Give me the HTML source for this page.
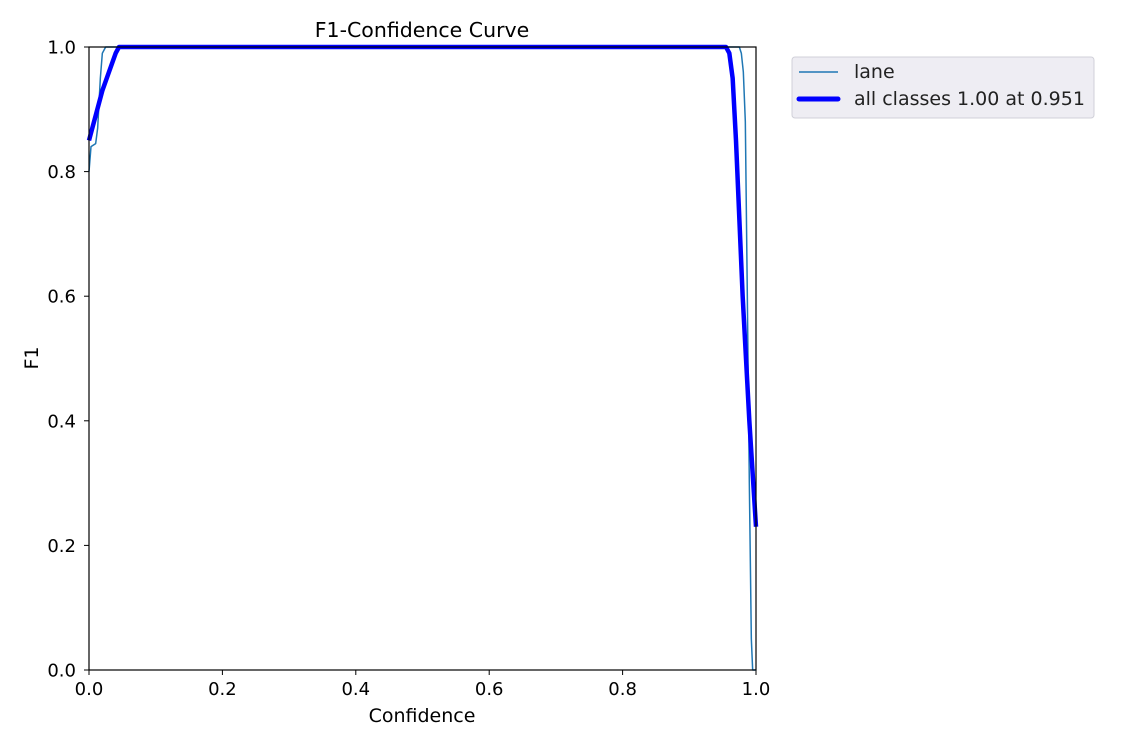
<!DOCTYPE html>
<html><head><meta charset="utf-8">
<style>
html,body{margin:0;padding:0;background:#fff;}
svg{display:block;font-family:"DejaVu Sans","Liberation Sans",sans-serif;}
</style></head>
<body>
<svg id="chart" width="1121" height="746" viewBox="0 0 1121 746">
  <text x="422" y="37" font-size="20.5" text-anchor="middle" fill="#000">F1-Confidence Curve</text>
  <g id="ticks"></g>
  <g id="plot"></g>
  <rect x="89" y="47" width="667" height="623" fill="none" stroke="#000" stroke-width="1.2"/>
  <text x="422" y="722" font-size="19" text-anchor="middle">Confidence</text>
  <text x="38" y="358" font-size="19" text-anchor="middle" transform="rotate(-90 38 358)">F1</text>
  <g>
    <rect x="792" y="57" width="302" height="61" rx="3" fill="#eeedf3" stroke="#d0d0d8"/>
    <line x1="799" y1="72" x2="838" y2="72" stroke="#1f77b4" stroke-width="1.5"/>
    <text x="854" y="78" font-size="19" fill="#222">lane</text>
    <line x1="799" y1="99" x2="838" y2="99" stroke="#0000ff" stroke-width="5" stroke-linecap="round"/>
    <text x="854" y="105" font-size="19" fill="#222">all classes 1.00 at 0.951</text>
  </g>
</svg>
<script>
const xTicks = [0, 0.2, 0.4, 0.6, 0.8, 1.0];
const yTicks = [0, 0.2, 0.4, 0.6, 0.8, 1.0];
const tickLabels = ["0.0","0.2","0.4","0.6","0.8","1.0"];
const laneX = [0, 0.003, 0.01, 0.013, 0.017, 0.02, 0.025, 0.975, 0.978, 0.981, 0.984, 0.987, 0.99, 0.993, 0.995, 1.0];
const laneY = [0.80, 0.84, 0.845, 0.87, 0.95, 0.99, 1.0, 1.0, 0.99, 0.96, 0.88, 0.6, 0.3, 0.05, 0.0, 0.0];
const allX = [0, 0.01, 0.02, 0.03, 0.04, 0.045, 0.955, 0.96, 0.965, 0.97, 0.98, 0.99, 1.0];
const allY = [0.85, 0.89, 0.93, 0.96, 0.99, 1.0, 1.0, 0.99, 0.95, 0.85, 0.6, 0.4, 0.23];

const NS = "http://www.w3.org/2000/svg";
const X0 = 89, X1 = 756, Y0 = 670, Y1 = 47;
function sx(v){ return X0 + v * (X1 - X0); }
function sy(v){ return Y0 - v * (Y0 - Y1); }

const tg = document.getElementById('ticks');
xTicks.forEach((t, i) => {
  const l = document.createElementNS(NS, 'line');
  l.setAttribute('x1', sx(t)); l.setAttribute('x2', sx(t));
  l.setAttribute('y1', Y0); l.setAttribute('y2', Y0 + 5);
  l.setAttribute('stroke', '#000');
  
  
  tg.appendChild(l);
  const tx = document.createElementNS(NS, 'text');
  tx.setAttribute('x', sx(t)); tx.setAttribute('y', Y0 + 25);
  tx.setAttribute('font-size', '18'); tx.setAttribute('text-anchor', 'middle');
  tx.textContent = tickLabels[i];
  
  
  tg.appendChild(tx);
});
yTicks.forEach((t, i) => {
  const l = document.createElementNS(NS, 'line');
  l.setAttribute('x1', X0 - 5); l.setAttribute('x2', X0);
  l.setAttribute('y1', sy(t)); l.setAttribute('y2', sy(t));
  l.setAttribute('stroke', '#000');
  
  
  tg.appendChild(l);
  const tx = document.createElementNS(NS, 'text');
  tx.setAttribute('x', X0 - 13); tx.setAttribute('y', sy(t) + 6.5);
  tx.setAttribute('font-size', '18'); tx.setAttribute('text-anchor', 'end');
  tx.textContent = tickLabels[i];
  
  
  tg.appendChild(tx);
});

const pg = document.getElementById('plot');
function path(xs, ys, color, w){
  const d = xs.map((x, i) => (i ? 'L' : 'M') + sx(x).toFixed(2) + ',' + sy(ys[i]).toFixed(2)).join(' ');
  const p = document.createElementNS(NS, 'path');
  p.setAttribute('d', d); p.setAttribute('fill', 'none');
  p.setAttribute('stroke', color); p.setAttribute('stroke-width', w);
  p.setAttribute('stroke-linejoin', 'round');
  pg.appendChild(p);
  return p;
}
const lane = path(laneX, laneY, '#1f77b4', 1.5);


const all = path(allX, allY, '#0000ff', 4.5);


</script>
</body></html>
